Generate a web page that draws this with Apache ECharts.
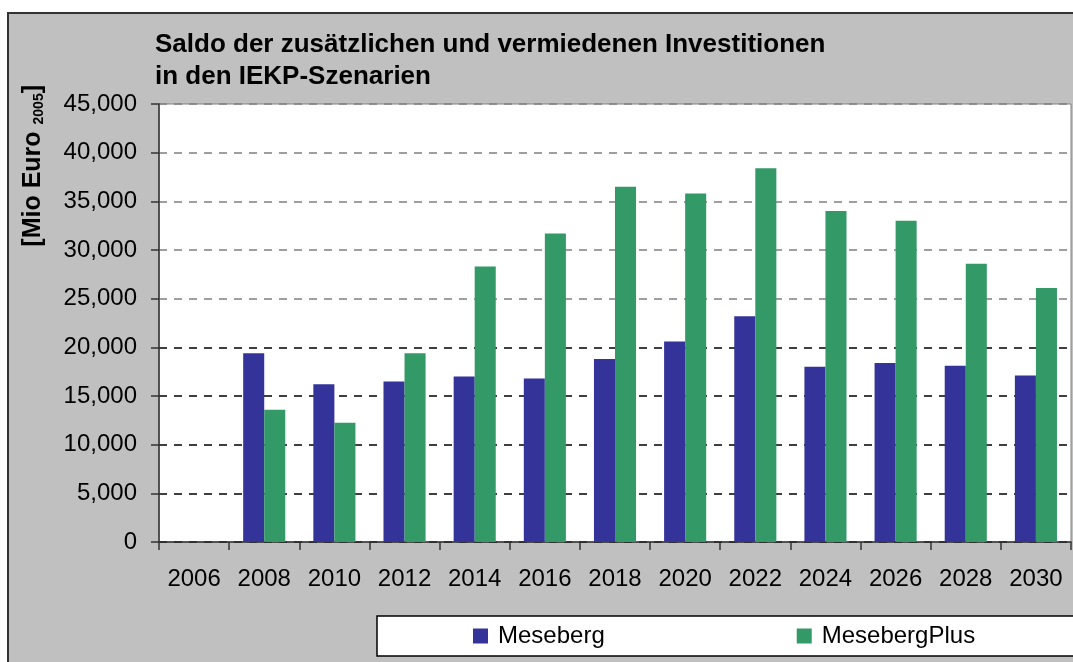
<!DOCTYPE html>
<html>
<head>
<meta charset="utf-8">
<script src="https://cdn.jsdelivr.net/npm/echarts@6/dist/echarts.min.js"></script>
<style>
html,body{margin:0;padding:0;background:#fff;}
#chart{width:1073px;height:662px;}
</style>
</head>
<body>
<div id="chart"></div>
<script>
const categories = ['2006','2008','2010','2012','2014','2016','2018','2020','2022','2024','2026','2028','2030'];
const meseberg = [null, 19400, 16200, 16500, 17000, 16800, 18800, 20600, 23200, 18000, 18400, 18100, 17100];
const mesebergPlus = [null, 13600, 12250, 19400, 28300, 31700, 36500, 35800, 38400, 34000, 33000, 28600, 26100];
const seriesNames = ['Meseberg', 'MesebergPlus'];
const titleLines = ['Saldo der zusätzlichen und vermiedenen Investitionen', 'in den IEKP-Szenarien'];

const sans = "'Liberation Sans',Arial,sans-serif";

const chart = echarts.init(document.getElementById('chart'), null, {renderer:'canvas'});
chart.setOption({
  backgroundColor: '#ffffff',
  animation: false,
  graphic: [
    {type:'rect', z:-100, silent:true, shape:{x:8, y:13, width:1080, height:660},
     style:{fill:'#c0c0c0', stroke:'#333333', lineWidth:2}},
    {type:'rect', z:-50, silent:true, shape:{x:377, y:616, width:710, height:40},
     style:{fill:'#ffffff', stroke:'#000000', lineWidth:1.5}},
    {type:'text', z:100, left: 21, top: 85,
     rotation: Math.PI/2,
     style:{
       text:'{m|[Mio Euro }{s|2005}{m|]}',
       rich:{
         m:{fontFamily:sans, fontWeight:'bold', fontSize:25, fill:'#000'},
         s:{fontFamily:sans, fontWeight:'bold', fontSize:14, fill:'#000', verticalAlign:'bottom', padding:[8,0,0,0]}
       }
     }}
  ],
  title: {
    text: titleLines.join('\n'),
    left: 150, top: 24,
    textStyle: {fontFamily: sans, fontWeight:'bold', fontSize:26, lineHeight:32, color:'#000'}
  },
  legend: {
    data: seriesNames,
    left: 473, top: 624,
    orient: 'horizontal',
    padding: 0,
    itemWidth: 15, itemHeight: 15,
    itemGap: 192,
    icon: 'rect',
    textStyle: {fontFamily: sans, fontSize: 24, color:'#000', padding:[0,0,0,5]}
  },
  grid: {
    left: 159, top: 104, width: 912, height: 438,
    show: true, backgroundColor:'#ffffff', borderColor:'#808080', borderWidth:1
  },
  xAxis: {
    type: 'category',
    data: categories,
    boundaryGap: true,
    axisLine: {show:true, lineStyle:{color:'#333333', width:1.5}},
    axisTick: {show:true, length:8, lineStyle:{color:'#333333', width:1.5}},
    axisLabel: {margin: 25, fontFamily: sans, fontSize: 24, color:'#000', interval:0}
  },
  yAxis: {
    type: 'value',
    min: 0, max: 45000, interval: 5000,
    axisLine: {show:true, lineStyle:{color:'#333333', width:1.5}},
    axisTick: {show:true, length:8, lineStyle:{color:'#333333', width:1.5}},
    axisLabel: {margin: 22, fontFamily: sans, fontSize: 24, color:'#000',
      formatter: v => v.toLocaleString('en-US')},
    splitLine: {show:true, lineStyle:{type:[8,7], width:1.5,
      color:['#000000','#000000','#000000','#000000','#000000','#808080','#808080','#808080','#808080','#808080']}}
  },
  series: [
    {name: seriesNames[0], type:'bar', data: meseberg, barGap:'0%', barCategoryGap:'40%',
     itemStyle:{color:'#333399'}},
    {name: seriesNames[1], type:'bar', data: mesebergPlus, barGap:'0%', barCategoryGap:'40%',
     itemStyle:{color:'#339966'}}
  ]
});
</script>
</body>
</html>
